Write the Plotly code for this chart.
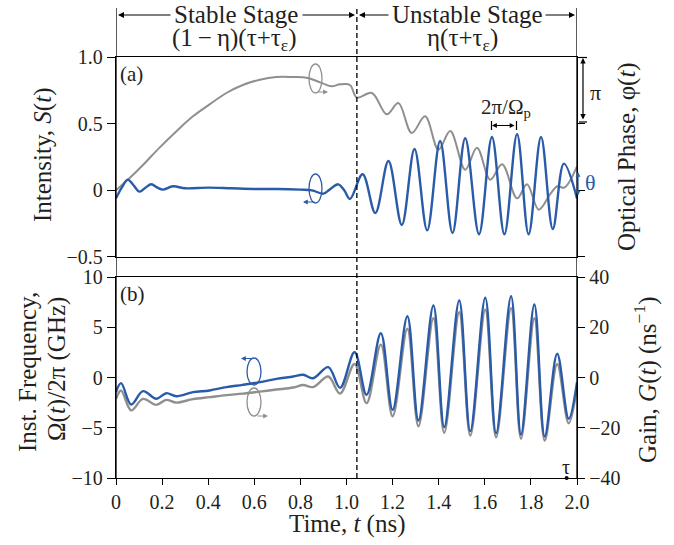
import plotly.graph_objects as go

# ---------------- data ----------------
# Panel (a): intensity S(t) (blue, left axis)
t_int = [0, 0.025, 0.051, 0.075, 0.102, 0.128, 0.153, 0.18, 0.203, 0.247, 0.3, 0.4, 0.5, 0.6, 0.7,
         0.8, 0.85, 0.9, 0.93, 0.964, 0.99, 1.015, 1.07, 1.125, 1.182, 1.24, 1.295, 1.35, 1.406,
         1.46, 1.515, 1.575, 1.631, 1.685, 1.74, 1.79, 1.844, 1.895, 1.943, 2.0]
intensity = [-0.06, 0.02, 0.08, 0.04, -0.01, 0.02, 0.045, 0.02, 0.005, 0.03, 0.015, 0.02, 0.015, 0.01, 0.01,
             0.005, 0.0, -0.025, 0.01, 0.045, 0.0, -0.065, 0.12, -0.17, 0.22, -0.26, 0.31, -0.30, 0.37,
             -0.32, 0.39, -0.33, 0.40, -0.33, 0.42, -0.33, 0.40, -0.29, 0.20, -0.06]

# Panel (a): optical phase phi(t) in units of pi (gray, right axis)
t_phase = [0, 0.058, 0.117, 0.189, 0.26, 0.334, 0.406, 0.479, 0.55, 0.624, 0.696, 0.769, 0.827, 0.87,
           0.9, 0.935, 0.972, 1.015, 1.045, 1.11, 1.175, 1.225, 1.283, 1.341, 1.399, 1.45, 1.515,
           1.566, 1.624, 1.675, 1.74, 1.783, 1.834, 1.885, 1.915, 1.945, 2.0]
phase_pi = [0.0, 0.18, 0.38, 0.64, 0.88, 1.11, 1.29, 1.46, 1.58, 1.66, 1.70, 1.70, 1.69, 1.64,
            1.60, 1.56, 1.59, 1.58, 1.39, 1.46, 1.14, 1.31, 0.86, 1.11, 0.61, 0.89, 0.31,
            0.64, 0.16, 0.39, -0.12, 0.09, -0.29, -0.05, 0.06, 0.04, 0.36]

# Panel (b): instantaneous frequency (blue, left) and gain (gray, right)
t_freq = [0, 0.022, 0.066, 0.117, 0.175, 0.218, 0.262, 0.334, 0.406, 0.479, 0.55, 0.624, 0.696,
          0.769, 0.812, 0.855, 0.921, 0.972, 1.035, 1.087, 1.149, 1.2, 1.264, 1.312, 1.377, 1.424,
          1.489, 1.537, 1.602, 1.649, 1.714, 1.757, 1.815, 1.86, 1.914, 1.964, 2.0]
freq = [-1.46, -0.56, -2.69, -1.36, -2.12, -1.56, -1.86, -1.46, -1.29, -0.96, -0.73, -0.46, -0.13,
        0.10, 0.27, -0.07, 1.03, -1.03, 2.52, -1.72, 4.41, -3.22, 6.10, -4.28, 7.16, -4.94,
        7.66, -5.34, 7.93, -5.54, 8.09, -5.67, 7.26, -5.87, 2.36, -4.11, -0.47]
gain = [-8.5, -5.2, -13.1, -8.5, -10.9, -8.9, -10.0, -8.6, -7.8, -7.0, -6.4, -5.6, -4.8,
        -4.0, -3.0, -3.8, 0.4, -6.4, 5.4, -10.2, 13.1, -15.4, 19.4, -19.4, 23.6, -22.0,
        26.0, -23.1, 27.0, -23.8, 27.6, -24.4, 23.6, -25.1, 5.4, -18.2, -3.8]

time_ticks = [0, 0.2, 0.4, 0.6, 0.8, 1.0, 1.2, 1.4, 1.6, 1.8, 2.0]
time_labels = ["0", "0.2", "0.4", "0.6", "0.8", "1.0", "1.2", "1.4", "1.6", "1.8", "2.0"]
int_ticks = [-0.5, 0, 0.5, 1.0]
int_labels = ["\u22120.5", "0", "0.5", "1.0"]
phase_ticks = [-1, 0, 1, 2]
freq_ticks = [-10, -5, 0, 5, 10]
freq_labels = ["\u221210", "\u22125", "0", "5", "10"]
gain_ticks = [-40, -20, 0, 20, 40]
gain_labels = ["\u221240", "\u221220", "0", "20", "40"]
stage_boundary = 1.045
tau_mark = 1.955

# ---------------- style ----------------
BLUE = "#2a5ba8"
GRAY = "#8f8f8f"
INK = "#231f20"
FONT = "'Liberation Serif', 'Times New Roman', Times, serif"


def X(px):
    return (px - 116) / 461  # paper x


def P(py):
    return (478 - py) / 421  # paper y


fig = go.Figure()
fig.add_trace(go.Scatter(x=t_phase, y=phase_pi, xaxis="x2", yaxis="y4", mode="lines",
                         line=dict(color=GRAY, width=2, shape="spline", smoothing=1.0), showlegend=False))
fig.add_trace(go.Scatter(x=t_int, y=intensity, xaxis="x2", yaxis="y3", mode="lines",
                         line=dict(color=BLUE, width=2.4, shape="spline", smoothing=1.0), showlegend=False))
fig.add_trace(go.Scatter(x=t_freq, y=gain, xaxis="x", yaxis="y2", mode="lines",
                         line=dict(color=GRAY, width=2.4, shape="spline", smoothing=1.0), showlegend=False))
fig.add_trace(go.Scatter(x=t_freq, y=freq, xaxis="x", yaxis="y", mode="lines",
                         line=dict(color=BLUE, width=2.4, shape="spline", smoothing=1.0), showlegend=False))
fig.add_trace(go.Scatter(x=[tau_mark], y=[-10], xaxis="x", yaxis="y", mode="markers",
                         marker=dict(color="black", size=4), showlegend=False, cliponaxis=False))

axis_common = dict(showgrid=False, zeroline=False, showline=True, linecolor="black", linewidth=1.3,
                   ticks="outside", tickcolor="black", tickwidth=1.3,
                   tickfont=dict(family=FONT, size=20, color=INK))

fig.update_layout(
    width=674, height=545, autosize=False,
    margin=dict(l=116, r=97, t=57, b=67, pad=0),
    paper_bgcolor="white", plot_bgcolor="white",
    font=dict(family=FONT, color=INK),
    xaxis=dict(axis_common, domain=[0, 1], range=[0, 2], anchor="y2", tickvals=time_ticks,
               ticktext=time_labels, ticklen=6, mirror=True),
    xaxis2=dict(axis_common, domain=[0, 1], range=[0, 2], anchor="y4", showticklabels=False,
                ticks="", mirror=True),
    yaxis2=dict(axis_common, domain=[0, 0.4774], range=[-40, 40], anchor="x", side="right",
                tickvals=gain_ticks, ticktext=gain_labels, ticklen=7),
    yaxis=dict(axis_common, range=[-10, 10], anchor="x", overlaying="y2", side="left",
               tickvals=freq_ticks, ticktext=freq_labels, ticklen=8),
    yaxis4=dict(axis_common, domain=[0.525, 1], range=[-1, 2], anchor="x2", side="right",
                tickvals=phase_ticks, showticklabels=False, ticklen=7),
    yaxis3=dict(axis_common, range=[-0.5, 1.0], anchor="x2", overlaying="y4", side="left",
                tickvals=int_ticks, ticktext=int_labels, ticklen=8),
)

shapes = []
shapes.append(dict(type="line", xref="x", yref="paper", x0=0, x1=0, y0=0, y1=P(8),
                   line=dict(color="black", width=1.3)))
shapes.append(dict(type="line", xref="x", yref="paper", x0=2, x1=2, y0=0, y1=P(8),
                   line=dict(color="black", width=1.3)))
shapes.append(dict(type="line", xref="x", yref="paper", x0=stage_boundary, x1=stage_boundary,
                   y0=0, y1=P(8), line=dict(color="black", width=1.3, dash="5px,3px")))


def hline(x0, x1, py, color="black", w=1.2):
    shapes.append(dict(type="line", xref="paper", yref="paper", x0=X(x0), x1=X(x1), y0=P(py), y1=P(py),
                       line=dict(color=color, width=w)))


def vline(px, py0, py1, color="black", w=1.2):
    shapes.append(dict(type="line", xref="paper", yref="paper", x0=X(px), x1=X(px), y0=P(py0), y1=P(py1),
                       line=dict(color=color, width=w)))


def ellipse(px0, px1, py0, py1, color):
    shapes.append(dict(type="circle", xref="paper", yref="paper", x0=X(px0), x1=X(px1), y0=P(py1), y1=P(py0),
                       line=dict(color=color, width=1.3)))


hline(579, 587, 57.5)
hline(579, 587, 122)
vline(491.5, 121, 130)
vline(516.5, 121, 130)
ellipse(309, 322, 64, 93, GRAY)
ellipse(309, 322, 174, 203, BLUE)
ellipse(247, 261, 358, 385, BLUE)
ellipse(247, 261, 388, 416, GRAY)

annotations = []


def arrow(hx, hy, tx, ty, color="black", w=1.2, size=1.0, head=2, both=False):
    annotations.append(dict(xref="paper", yref="paper", x=X(hx), y=P(hy), ax=tx - hx, ay=ty - hy,
                            axref="pixel", ayref="pixel", text="", showarrow=True,
                            arrowhead=head, arrowsize=size, arrowwidth=w, arrowcolor=color,
                            startarrowhead=head, startarrowsize=size,
                            arrowside="end+start" if both else "end"))


def text(px, py, s, size=24, color=INK, angle=0, xanchor="center"):
    annotations.append(dict(xref="paper", yref="paper", x=X(px), y=P(py), text=s, showarrow=False,
                            textangle=angle, xanchor=xanchor, yanchor="middle",
                            font=dict(family=FONT, size=size, color=color)))


arrow(118, 15, 172, 15)
arrow(355, 15, 301, 15)
arrow(359, 15, 390, 15)
arrow(575, 15, 544, 15)
text(236, 15, "Stable Stage", 25)
text(467, 15, "Unstable Stage", 25)
text(234, 39, "(1\u2009\u2212\u2009\u03b7)(\u03c4+\u03c4<sub>\u03b5</sub>)", 25)
text(462, 39, "\u03b7(\u03c4+\u03c4<sub>\u03b5</sub>)", 25)

text(118, 74, "(a)", 21, xanchor="left")
text(118, 294, "(b)", 21, xanchor="left")

arrow(583, 58, 583, 121, both=True, size=0.9)
text(595, 92, "\u03c0", 22)
arrow(578, 172, 578, 197, color=BLUE, both=True, size=0.8)
text(590, 182, "\u03b8", 22, color=BLUE)
arrow(492, 125.5, 516, 125.5, both=True, size=0.8)
text(506, 108, "2\u03c0/\u03a9<sub>p</sub>", 21)

arrow(328, 92, 316, 92, color=GRAY, size=0.8)
arrow(303, 202, 316, 202, color=BLUE, size=0.8)
arrow(241, 358.5, 253, 358.5, color=BLUE, size=0.8)
arrow(268, 416, 256, 416, color=GRAY, size=0.8)

text(566, 467, "\u03c4", 20)

text(43, 155, "Intensity, <i>S</i>(<i>t</i>)", 25, angle=-90)
text(27, 372, "Inst. Frequency,", 25, angle=-90)
text(57, 369, "\u03a9(<i>t</i>)/2\u03c0 (GHz)", 25, angle=-90)
text(627, 157, "Optical Phase, \u03c6(<i>t</i>)", 25, angle=-90)
text(645, 380, "Gain, <i>G</i>(<i>t</i>) (ns<sup>\u22121</sup>)", 25, angle=-90)
text(347, 524, "Time, <i>t</i> (ns)", 25)

fig.update_layout(shapes=shapes, annotations=annotations)
fig.write_html("out.html", config={"displayModeBar": False},
               post_script="document.body.style.margin='0px';")
